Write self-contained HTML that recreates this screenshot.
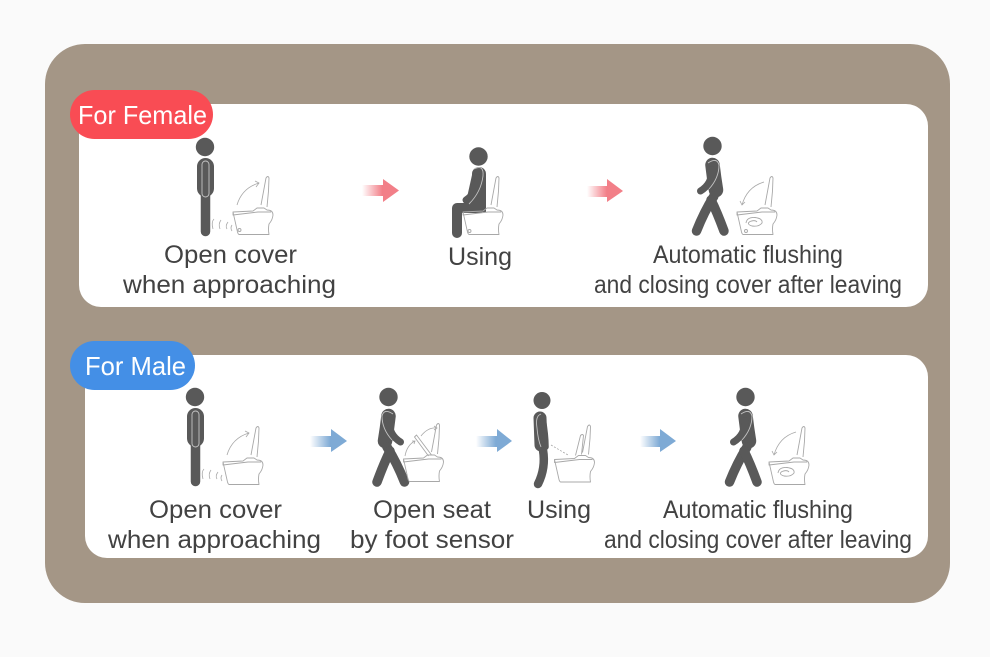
<!DOCTYPE html>
<html><head><meta charset="utf-8"><style>
html,body{margin:0;padding:0;background:#fafafa}
svg{display:block}
text{font-family:"Liberation Sans",sans-serif;font-size:25px;fill:#424242}
.w{fill:#fff;font-size:26px}
.t{fill:none;stroke:#a8a8a8;stroke-width:.9;stroke-linejoin:round}
.a{fill:none;stroke:#a8a8a8;stroke-width:.8}
.f{fill:none;stroke:#595959;stroke-linecap:round;stroke-linejoin:round}
.i{fill:none;stroke:#c4c4c4;stroke-width:.9}
</style></head><body>
<svg width="990" height="657" viewBox="0 0 990 657" xmlns="http://www.w3.org/2000/svg">
<defs>
<linearGradient id="r"><stop offset="0" stop-color="#f27f88" stop-opacity="0"/><stop offset=".55" stop-color="#f27f88"/></linearGradient>
<linearGradient id="b"><stop offset="0" stop-color="#7eaad5" stop-opacity="0"/><stop offset=".55" stop-color="#7eaad5"/></linearGradient>
<path id="bowl" d="M0 3 L20 2 L24 -1 L31 -1 L34 1 Q40 1 40 6 Q39.500 11 36 15 Q35 20 36 25.500 L6 25.500 Q5 25 4.500 23 Z M0 3 V6 L25 3 L38 3"/>
<path id="lid" d="M28 -4 L33 -31 Q35 -34 36 -31 L35.500 -18 L34 -2"/>
<path id="swirl" d="M9 14 Q10 8 18 8.500 Q26 9.500 25 14 Q22 18 15 17 Q9 15 13 12.500 Q18 10.500 20 13"/>
<g id="stand">
<circle cx="205" cy="147" r="9.200" fill="#595959"/>
<path class="f" stroke-width="17" d="M205.500 166.500 V188.500"/>
<path class="f" stroke-width="9.500" d="M205.500 195 V231.500"/>
<rect class="i" x="202" y="161" width="7" height="36" rx="3.500"/>
</g>
<g id="walk">
<circle cx="712.500" cy="146" r="9.200" fill="#595959"/>
<path class="f" stroke-width="14.500" d="M712.500 165 Q714 178 716 190"/>
<path class="f" stroke-width="9.500" d="M714 196 Q704 212 696.500 231"/>
<path class="f" stroke-width="9.500" d="M711 200 Q717 212 724 231"/>
<path class="f" stroke-width="7" d="M712 170 Q712 184 700.500 191"/>
<path class="i" d="M708 163 Q717 157 719 165 Q719 178 709 189"/>
</g>
</defs>

<rect x="45" y="44" width="905" height="559" rx="40" fill="#a49686"/>
<rect x="79" y="104" width="849" height="203" rx="22" fill="#fff"/>
<rect x="85" y="355" width="843" height="203" rx="22" fill="#fff"/>
<rect x="70" y="90" width="143" height="49" rx="24.500" fill="#f94c54"/>
<rect x="70" y="341" width="125" height="49" rx="24.500" fill="#448fe6"/>
<text class="w" x="78" y="124" textLength="129" lengthAdjust="spacingAndGlyphs">For Female</text>
<text class="w" x="85" y="375" textLength="101" lengthAdjust="spacingAndGlyphs">For Male</text>

<!-- Female 1 -->
<use href="#stand"/>
<g transform="translate(233 209)" class="t"><use href="#bowl"/><use href="#lid"/><circle cx="6.500" cy="21" r="1.500"/></g>
<path class="a" d="M237 205 Q242 188 259 183 M255 181 L259 183 L256 187"/>
<path class="a" d="M213 229 Q211 222 214 219 M220 229 Q218 224 221 220 M227 229 Q225 226 228 222 M232 231 Q230 228 232 225"/>
<text x="164" y="263" textLength="133" lengthAdjust="spacingAndGlyphs">Open cover</text>
<text x="123" y="293" textLength="213" lengthAdjust="spacingAndGlyphs">when approaching</text>

<path d="M362 185 H383 V179 L399 190.500 L383 202 V196 H362 Z" fill="url(#r)"/>

<!-- Female 2 -->
<circle cx="478.500" cy="156.500" r="9.200" fill="#595959"/>
<path fill="#595959" d="M472 175 H486 V212 H470 L466 202 Z"/>
<path class="f" stroke-width="14" d="M479 174 V205"/>
<path class="f" stroke-width="10" d="M480 208 H457 V233"/>
<path class="f" stroke-width="7" d="M478 178 Q478 192 466 200"/>
<path class="i" d="M474 169 Q484 164 483 176 Q481 192 469 204"/>
<g transform="translate(463 209)" class="t"><use href="#bowl"/><use href="#lid"/><circle cx="6.500" cy="22" r="1.500"/></g>
<text x="448" y="265" textLength="64" lengthAdjust="spacingAndGlyphs">Using</text>

<path d="M587 186 H607 V179 L623 191 L607 202 V197 H587 Z" fill="url(#r)"/>

<!-- Female 3 -->
<use href="#walk"/>
<g class="t" transform="translate(737 209)"><use href="#bowl"/><use href="#lid"/><use href="#swirl"/><circle cx="9" cy="22" r="1.500"/></g>
<path class="a" d="M764 182 Q747 187 742 205 M740 201 L742 205 L745 202"/>
<text x="653" y="263" textLength="190" lengthAdjust="spacingAndGlyphs">Automatic flushing</text>
<text x="594" y="293" textLength="308" lengthAdjust="spacingAndGlyphs">and closing cover after leaving</text>

<!-- Male 1 -->
<g transform="translate(-10 250)">
<use href="#stand"/>
<g transform="translate(233 209)" class="t"><use href="#bowl"/><use href="#lid"/></g>
<path class="a" d="M237 205 Q242 188 259 183 M255 181 L259 183 L256 187"/>
<path class="a" d="M213 229 Q211 222 214 219 M220 229 Q218 224 221 220 M227 229 Q225 226 228 222 M232 231 Q230 228 232 225"/>
</g>
<text x="149" y="518" textLength="133" lengthAdjust="spacingAndGlyphs">Open cover</text>
<text x="108" y="548" textLength="213" lengthAdjust="spacingAndGlyphs">when approaching</text>

<path d="M310 436 H331 V429 L347 441 L331 452 V447 H310 Z" fill="url(#b)"/>

<!-- Male 2 -->
<g transform="translate(1101 251) scale(-1 1)"><use href="#walk"/></g>
<g class="t" transform="translate(403.500 456)"><use href="#bowl"/><use href="#lid"/><path d="M25 0 L11 -19 L13 -21 L28 -1"/></g>
<path class="a" d="M405 456 Q407 445 415 441 M412 441 L415 441 L414 444 M421 436 Q428 427 437 428 M434 426 L437 428 L434 430"/>
<text x="373" y="518" textLength="118" lengthAdjust="spacingAndGlyphs">Open seat</text>
<text x="350" y="548" textLength="164" lengthAdjust="spacingAndGlyphs">by foot sensor</text>

<path d="M476 436 H497 V429 L512 441 L497 452 V447 H476 Z" fill="url(#b)"/>

<!-- Male 3 -->
<circle cx="542" cy="400.500" r="8.500" fill="#595959"/>
<path class="f" stroke-width="13" d="M540 418 L541 445"/>
<path class="f" stroke-width="8.500" d="M543 450 Q546 468 538 484"/>
<path class="f" stroke-width="5.500" d="M543 418 Q546 435 546 447"/>
<path class="i" d="M541 414 Q535 416 537 428 Q538 440 541 447"/>
<path class="a" stroke-dasharray="2 1.500" d="M551 445 L568 455"/>
<g class="t" transform="translate(554.500 456.500)"><use href="#bowl"/><path d="M28 -4 L33 -30 Q35 -33 36 -30 L35.500 -18 L34 -2 M21 -1 L26 -21 Q28 -23 29 -21 L27 -2"/></g>
<text x="527" y="518" textLength="64" lengthAdjust="spacingAndGlyphs">Using</text>

<path d="M640 436 H660 V429 L676 441 L660 452 V447 H640 Z" fill="url(#b)"/>

<!-- Male 4 -->
<g transform="translate(33 251)"><use href="#walk"/></g>
<g class="t" transform="translate(769 459)"><use href="#bowl"/><use href="#lid"/><use href="#swirl"/></g>
<path class="a" d="M796 432 Q779 437 774 455 M772 451 L774 455 L777 452"/>
<text x="663" y="518" textLength="190" lengthAdjust="spacingAndGlyphs">Automatic flushing</text>
<text x="604" y="548" textLength="308" lengthAdjust="spacingAndGlyphs">and closing cover after leaving</text>
</svg>
</body></html>
